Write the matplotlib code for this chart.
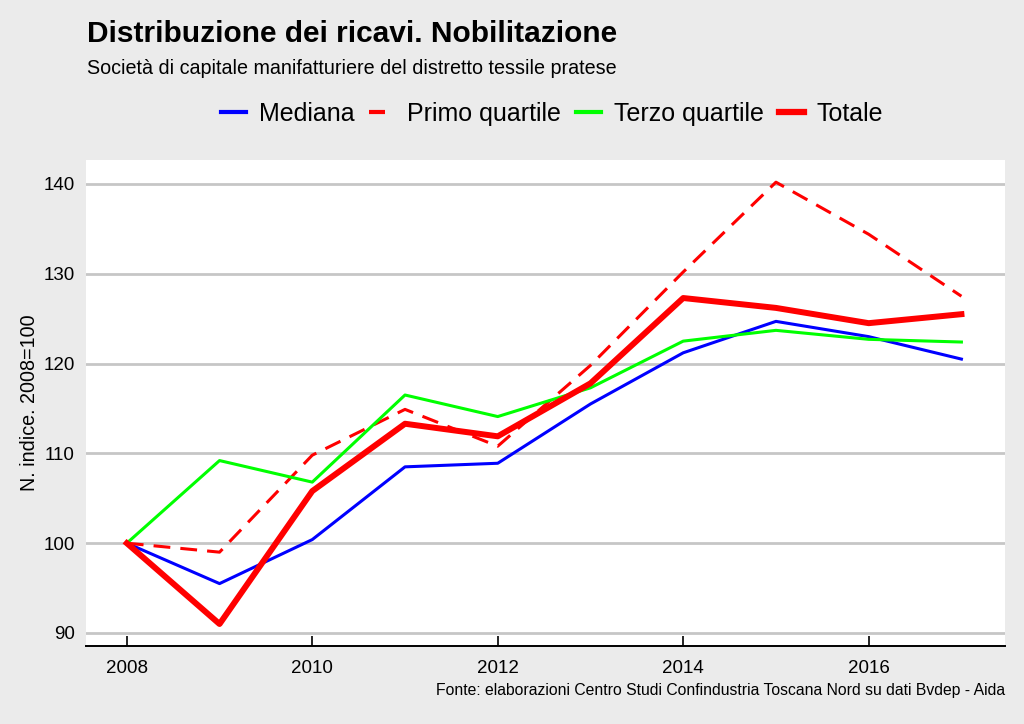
import matplotlib
matplotlib.use("Agg")
import matplotlib.pyplot as plt
from matplotlib.lines import Line2D

years = [2008, 2009, 2010, 2011, 2012, 2013, 2014, 2015, 2016, 2017]
mediana = [100, 95.5, 100.4, 108.5, 108.9, 115.5, 121.2, 124.7, 123.0, 120.5]
primo_quartile = [100, 99.0, 109.8, 114.9, 110.8, 119.8, 130.2, 140.2, 134.4, 127.5]
terzo_quartile = [100, 109.2, 106.8, 116.5, 114.1, 117.3, 122.5, 123.7, 122.7, 122.4]
totale = [100, 91.0, 105.8, 113.3, 111.9, 117.8, 127.3, 126.2, 124.5, 125.5]

title = "Distribuzione dei ricavi. Nobilitazione"
subtitle = "Società di capitale manifatturiere del distretto tessile pratese"
ylabel = "N. indice. 2008=100"
caption = "Fonte: elaborazioni Centro Studi Confindustria Toscana Nord su dati Bvdep - Aida"
xticks = [2008, 2010, 2012, 2014, 2016]
yticks = [90, 100, 110, 120, 130, 140]

plt.rcParams['font.family'] = ['Liberation Sans', 'DejaVu Sans']
bg = '#ebebeb'
fig = plt.figure(figsize=(10.24, 7.24), dpi=100, facecolor=bg)
ax = fig.add_axes([86/1024, 1-646/724, (1005-86)/1024, (646-160)/724])
ax.set_facecolor('white')

for yv in yticks:
    ax.axhline(yv, color='#c6c6c6', lw=2.0, zorder=1)

ax.plot(years, mediana, color='#0000ff', lw=2.2, zorder=3)
ax.plot(years, primo_quartile, color='#ff0000', lw=2.2, ls=(0, (5.5, 3.3)), zorder=3)
ax.plot(years, terzo_quartile, color='#00ff00', lw=2.2, zorder=3)
ax.plot(years, totale, color='#ff0000', lw=4.3, zorder=4)

ax.set_xlim(2007.56, 2017.47)
ax.set_ylim(88.55, 142.67)
ax.set_xticks(xticks)
ax.set_yticks(yticks)
ax.tick_params(axis='x', direction='in', length=7, width=1.2, color='black',
               labelsize=13.5, pad=10)
ax.tick_params(axis='y', length=0, labelsize=13.5, pad=8)
for s in ['top', 'right', 'left']:
    ax.spines[s].set_visible(False)
ax.spines['bottom'].set_linewidth(1.4)
ax.spines['bottom'].set_color('black')
ax.set_ylabel(ylabel, fontsize=14.2, labelpad=3)

fig.text(87/1024, 1-34/724, title, fontsize=21.5, fontweight='bold', va='center', ha='left')
fig.text(87/1024, 1-68/724, subtitle, fontsize=14.2, va='center', ha='left')
fig.text(1005/1024, 1-691/724, caption, fontsize=11.3, va='center', ha='right')

handles = [
    Line2D([], [], color='#0000ff', lw=3),
    Line2D([], [], color='#ff0000', lw=3, ls=(0, (3.84, 4))),
    Line2D([], [], color='#00ff00', lw=3),
    Line2D([], [], color='#ff0000', lw=4.5),
]
labels = ['Mediana', 'Primo quartile', 'Terzo quartile', 'Totale']
fig.legend(handles, labels, loc='center', bbox_to_anchor=(552/1024, 1-114/724), ncol=4,
           frameon=False, fontsize=18, handlelength=1.0, handletextpad=0.52,
           columnspacing=0.6, borderpad=0)

fig.savefig('out.png', dpi=100, facecolor=bg)
